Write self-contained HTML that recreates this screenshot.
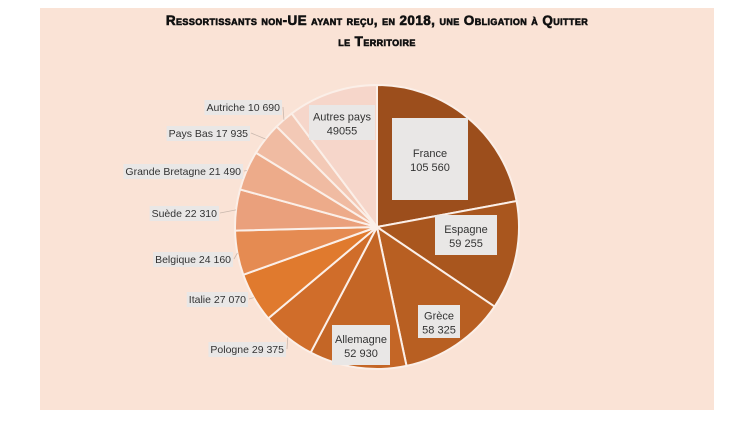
<!DOCTYPE html>
<html><head><meta charset="utf-8"><style>
body{margin:0;width:754px;height:424px;background:#fff;overflow:hidden;font-family:"Liberation Sans",sans-serif}
svg{position:absolute;left:0;top:0}
</style></head><body>
<svg width="754" height="424" id="chart">
<rect x="40" y="8" width="674" height="402" fill="#FAE3D6"/>
<text x="377" y="25" text-anchor="middle" font-size="13.5" font-weight="bold" stroke="#111" stroke-width="0.6" style="font-variant:small-caps;letter-spacing:0.4px" fill="#111">Ressortissants non-UE ayant reçu, en 2018, une Obligation à Quitter</text>
<text x="377" y="46" text-anchor="middle" font-size="13.5" font-weight="bold" stroke="#111" stroke-width="0.6" style="font-variant:small-caps;letter-spacing:0.4px" fill="#111">le Territoire</text>
<g id="slices"></g>
<g id="labels"></g>
</svg>
<script>
const categories=["France","Espagne","Grèce","Allemagne","Pologne","Italie","Belgique","Suède","Grande Bretagne","Pays Bas","Autriche","Autres pays"];
const values=[105560,59255,58325,52930,29375,27070,24160,22310,21490,17935,10690,49055];
const valueLabels=["105 560","59 255","58 325","52 930","29 375","27 070","24 160","22 310","21 490","17 935","10 690","49055"];
const colors=["#9C4E1C","#A9561E","#B85F22","#C46626","#D06D2A","#E07A2E","#E58B52","#EAA07C","#EDAB8A","#F0BBA2","#F3C9B6","#F6D6CA"];
const cx=377,cy=227,R=142;
const NS="http://www.w3.org/2000/svg";
const total=values.reduce((a,b)=>a+b,0);
function pt(a,r){return [cx+r*Math.sin(a),cy-r*Math.cos(a)];}
const gS=document.getElementById('slices'),gL=document.getElementById('labels');
let a0=0;const mids=[];
values.forEach((v,i)=>{
 const a1=a0+v/total*2*Math.PI;
 const p0=pt(a0,R),p1=pt(a1,R);
 const p=document.createElementNS(NS,'path');
 p.setAttribute('d',`M${cx},${cy}L${p0[0]},${p0[1]}A${R},${R} 0 ${a1-a0>Math.PI?1:0} 1 ${p1[0]},${p1[1]}Z`);
 p.setAttribute('fill',colors[i]);p.setAttribute('stroke','#FBEFE8');p.setAttribute('stroke-width','2');
 
 
 gS.appendChild(p);mids.push((a0+a1)/2);a0=a1;
});
const inside={0:[392,118,76,82],1:[435,215,62,40],2:[418,305,42,33],3:[332,325,58,40],11:[309,105,66,35]};
function addText(x,y,t,anchor,name,size){
 const e=document.createElementNS(NS,'text');
 e.setAttribute('x',x);e.setAttribute('y',y);e.setAttribute('font-size',size||'11');e.setAttribute('fill','#333');
 e.setAttribute('text-anchor',anchor);e.textContent=t;
 
 
 gL.appendChild(e);return e;
}
function addBox(x,y,w,h,name){
 const r=document.createElementNS(NS,'rect');
 r.setAttribute('x',x);r.setAttribute('y',y);r.setAttribute('width',w);r.setAttribute('height',h);r.setAttribute('fill','#E9E7E6');
 
 
 gL.insertBefore(r,gL.firstChild);
}
const outside={4:[284,353],5:[246,303],6:[231,263],7:[217,217],8:[241,175],9:[248,137],10:[280,111]};
categories.forEach((c,i)=>{
 const slug=c.toLowerCase().replace(/\s+/g,'-');
 if(inside[i]){
  const [x,y,w,h]=inside[i];
  addBox(x,y,w,h,'label-box-'+slug);
  const mx=x+w/2,my=y+h/2;
  addText(mx,my-2,c,'middle','label-name-'+slug);
  addText(mx,my+12,valueLabels[i],'middle','label-value-'+slug);
 } else {
  const [rx,by]=outside[i];
  const t=c+' '+valueLabels[i];
  const te=addText(rx,by,t,'end','label-'+slug,'10.5');
  const w=te.getComputedTextLength();
  addBox(rx-w-2,by-11,w+4,15,'label-box-'+slug);
  const e=pt(mids[i],R);
  const l=document.createElementNS(NS,'line');
  l.setAttribute('x1',rx+3);l.setAttribute('y1',by-4);l.setAttribute('x2',e[0]);l.setAttribute('y2',e[1]);
  l.setAttribute('stroke','#C9B8AE');l.setAttribute('stroke-width','0.8');
  
  
  gL.appendChild(l);
 }
});
</script>
</body></html>
